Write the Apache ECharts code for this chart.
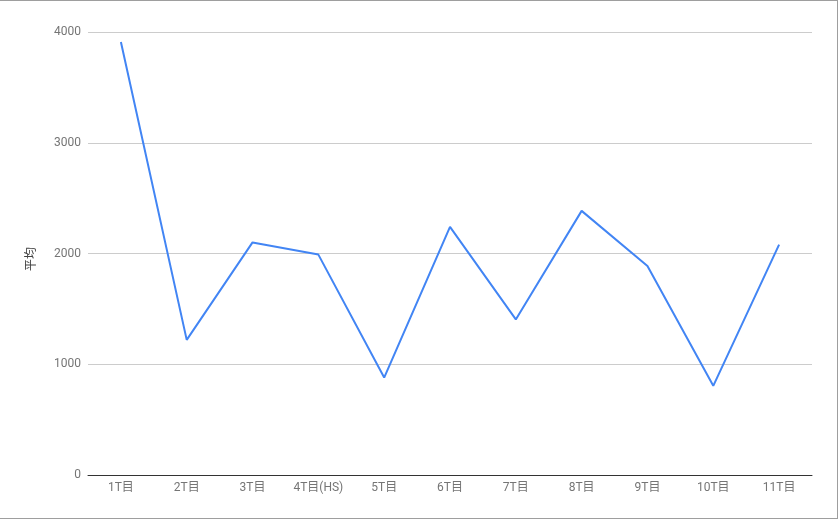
<!DOCTYPE html>
<html>
<head>
    <meta charset="utf-8">
    <title>平均</title>
    <script src="https://cdn.jsdelivr.net/npm/echarts@6/dist/echarts.min.js"></script>
    <style>
        html, body { margin: 0; padding: 0; background: #fff; }
        #frame {
            position: absolute; left: -1px; top: 0;
            width: 839px; height: 519px;
            box-sizing: border-box; border: 1px solid #9e9e9e;
        }
        #chart1 { position: absolute; left: 0; top: 0; width: 839px; height: 520px; }
    </style>
</head>
<body>
    <div id="chart1"></div>
    <div id="frame"></div>
<script type="text/javascript">
// 数据
var rounds = ['1T目', '2T目', '3T目', '4T目(HS)', '5T目', '6T目', '7T目', '8T目', '9T目', '10T目', '11T目'];
var avgValues = [3910, 1220, 2100, 1990, 880, 2240, 1405, 2385, 1887, 805, 2080];
var yTicks = [0, 1000, 2000, 3000, 4000];

var fontFamily = 'Roboto, "Noto Sans CJK JP", sans-serif';
var myChart1 = echarts.init(document.getElementById('chart1'));

myChart1.setOption({
    animation: false,
    grid: { left: 88, right: 27, top: 32, bottom: 45 },
    xAxis: {
        type: 'category',
        data: rounds,
        axisTick: { show: false },
        axisLine: { lineStyle: { color: '#333', width: 1 } },
        axisLabel: { color: '#757575', fontSize: 12, fontFamily: fontFamily, margin: 7, interval: 0 }
    },
    yAxis: {
        type: 'value',
        min: yTicks[0],
        max: yTicks[yTicks.length - 1],
        interval: 1000,
        name: '平均',
        nameLocation: 'middle',
        nameGap: 50,
        nameTextStyle: { color: '#444', fontSize: 12, fontFamily: fontFamily, padding: [0, 11, 0, 0] },
        axisLine: { show: false },
        axisTick: { show: false },
        axisLabel: {
            color: '#757575', fontSize: 12, fontFamily: fontFamily, margin: 7,
            formatter: function (v) { return String(v); }
        },
        splitLine: { lineStyle: { color: '#cccccc', width: 1 } }
    },
    series: [{
        name: '平均',
        type: 'line',
        data: avgValues,
        showSymbol: false,
        symbol: 'none',
        lineStyle: { color: '#4285f4', width: 2 },
        itemStyle: { color: '#4285f4' }
    }]
});
</script>
</body>
</html>
